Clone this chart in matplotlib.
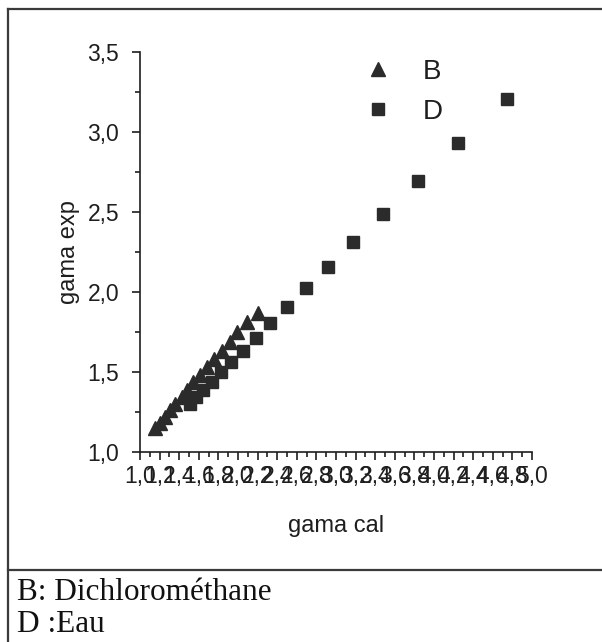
import matplotlib
matplotlib.use("Agg")
import matplotlib.pyplot as plt
from matplotlib.lines import Line2D
from matplotlib.ticker import MultipleLocator, FuncFormatter

# Series B (Dichlorométhane): gama cal vs gama exp
b_cal = [1.153, 1.204, 1.255, 1.306, 1.357, 1.425, 1.483, 1.544, 1.612,
         1.680, 1.758, 1.833, 1.918, 1.993, 2.089, 2.201]
b_exp = [1.148, 1.183, 1.221, 1.263, 1.300, 1.346, 1.388, 1.436, 1.481,
         1.529, 1.581, 1.633, 1.689, 1.748, 1.811, 1.871]

# Series D (Eau)
d_cal = [1.510, 1.571, 1.646, 1.731, 1.827, 1.929, 2.048, 2.184, 2.327,
         2.503, 2.694, 2.921, 3.177, 3.483, 3.834, 4.248, 4.742]
d_exp = [1.298, 1.342, 1.387, 1.440, 1.498, 1.564, 1.633, 1.714, 1.804,
         1.908, 2.023, 2.158, 2.311, 2.488, 2.694, 2.933, 3.204]

legend_labels = ["B", "D"]
caption_lines = ["B: Dichlorométhane", "D :Eau"]

ink = "#1e1e1e"
marker_col = "#2b2b2b"
sans = "Liberation Sans"
serif = "Liberation Serif"

fig = plt.figure(figsize=(6.02, 6.42), dpi=100)
fig.patch.set_facecolor("white")

# Frame lines around the figure panel and caption row
W, H = 602.0, 642.0
def fx(px):
    return px / W
def fy(py):
    return 1 - py / H
frame_kw = dict(color="#3a3a3a", lw=1.6, transform=fig.transFigure)
fig.add_artist(Line2D([fx(8), 1.0], [fy(9), fy(9)], **frame_kw))
fig.add_artist(Line2D([fx(8), fx(8)], [fy(9), 0.0], **frame_kw))
fig.add_artist(Line2D([fx(8), 1.0], [fy(570), fy(570)], **frame_kw))

ax = fig.add_axes([fx(140), fy(452), fx(532) - fx(140), fy(52) - fy(452)])
ax.set_xlim(1.0, 5.0)
ax.set_ylim(1.0, 3.5)

ax.plot(d_cal, d_exp, linestyle="none", marker="s", ms=8, color=marker_col,
        mec=marker_col, label=legend_labels[1], zorder=3)
ax.plot(b_cal, b_exp, linestyle="none", marker="^", ms=10, color=marker_col,
        mec=marker_col, label=legend_labels[0], zorder=4)

for side in ("top", "right"):
    ax.spines[side].set_visible(False)
for side in ("left", "bottom"):
    ax.spines[side].set_linewidth(1.2)
    ax.spines[side].set_color(ink)

comma = FuncFormatter(lambda v, p: f"{v:.1f}".replace(".", ","))
ax.xaxis.set_major_locator(MultipleLocator(0.2))
ax.xaxis.set_minor_locator(MultipleLocator(0.1))
ax.yaxis.set_major_locator(MultipleLocator(0.5))
ax.yaxis.set_minor_locator(MultipleLocator(0.25))
ax.xaxis.set_major_formatter(comma)
ax.yaxis.set_major_formatter(comma)

ax.tick_params(which="major", direction="out", length=6, width=1.2,
               color=ink, labelsize=16.5, labelcolor=ink)
ax.tick_params(which="minor", direction="out", length=3.5, width=1.2, color=ink)
ax.tick_params(axis="x", which="major", pad=3)
ax.tick_params(axis="y", which="major", pad=9)
for lab in ax.get_xticklabels() + ax.get_yticklabels():
    lab.set_fontfamily(sans)

ax.set_xlabel("gama cal", fontsize=17, family=sans, color=ink, labelpad=20)
ax.set_ylabel("gama exp", fontsize=17, family=sans, color=ink, labelpad=5)

handles, labels = ax.get_legend_handles_labels()
order = [labels.index(l) for l in legend_labels]
leg = ax.legend([handles[i] for i in order], [labels[i] for i in order],
                loc="center", bbox_to_anchor=(fx(400), fy(92)),
                bbox_transform=fig.transFigure, frameon=False, numpoints=1,
                prop={"family": sans, "size": 20}, handlelength=1.5,
                handletextpad=0.85, labelspacing=0.5)
for t in leg.get_texts():
    t.set_color(ink)

# Caption row under the chart
fig.text(fx(17), fy(593), caption_lines[0], family=serif, fontsize=22.5,
         color="#111111", va="center", ha="left")
fig.text(fx(17), fy(624), caption_lines[1], family=serif, fontsize=22.5,
         color="#111111", va="center", ha="left")

fig.savefig("out.png", dpi=100, facecolor="white")
